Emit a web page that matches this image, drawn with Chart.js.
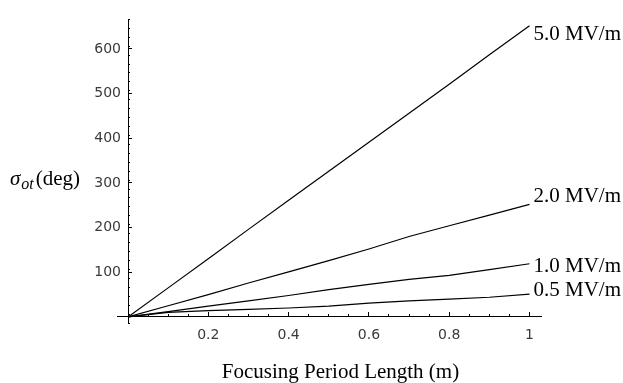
<!DOCTYPE html>
<html>
<head>
<meta charset="utf-8">
<script src="https://cdn.jsdelivr.net/npm/chart.js@4/dist/chart.umd.min.js"></script>
<style>
html,body{margin:0;padding:0;background:#fff;}
#wrap{width:623px;height:383px;}
</style>
</head>
<body>
<div id="wrap"><canvas id="c" width="623" height="383"></canvas></div>
<script>
// ---- data ----
const periodLength = [0, 0.1, 0.2, 0.3, 0.4, 0.5, 0.6, 0.7, 0.8, 0.9, 1.0];
const sigma05 = [0, 10, 14, 17, 20, 24, 31, 36, 40, 44, 51];
const sigma10 = [0, 12, 24, 36, 48, 61, 73, 84, 93, 106, 119];
const sigma20 = [0, 25, 50, 76, 101, 126, 152, 180, 204, 228, 252];
const sigma50 = [0, 65, 130, 196, 261, 326, 391, 456, 521, 587, 652];
const seriesNames = ['0.5 MV/m', '1.0 MV/m', '2.0 MV/m', '5.0 MV/m'];
const seriesLabelY = [47.5, 101.5, 257, 619.5];   // label baselines, in data units
const xTickValues = [0.2, 0.4, 0.6, 0.8, 1];
const xTickLabels = ['0.2', '0.4', '0.6', '0.8', '1'];
const yTickValues = [100, 200, 300, 400, 500, 600];
const yTickLabels = ['100', '200', '300', '400', '500', '600'];
const xTitle = 'Focusing Period Length (m)';
const yTitleParts = ['σ', 'ot', '(deg)'];

const seriesValues = [sigma05, sigma10, sigma20, sigma50];

const SERIF = '"Liberation Serif", "Times New Roman", serif';
const TICKFONT = {family: '"DejaVu Sans", sans-serif', size: 14};
const TICKCOLOR = '#3a3a3a';

function alignPx(p) { return Math.round(p - 0.5) + 0.5; }

const annotations = {
  id: 'annotations',
  afterDraw(chart) {
    const ctx = chart.ctx;
    const xs = chart.scales.x, ys = chart.scales.y;
    const ca = chart.chartArea;
    ctx.save();
    // short extension of the horizontal axis to the left of the origin
    const y0 = alignPx(ys.getPixelForValue(0));
    const x0 = xs.getPixelForValue(0);
    ctx.strokeStyle = '#000';
    ctx.lineWidth = 1;
    ctx.beginPath();
    ctx.moveTo(x0 - 11, y0);
    ctx.lineTo(x0, y0);
    ctx.stroke();

    // series labels
    ctx.fillStyle = '#000';
    ctx.font = '21px ' + SERIF;
    ctx.textAlign = 'left';
    ctx.textBaseline = 'alphabetic';
    const xl = xs.getPixelForValue(1) + 4;
    seriesNames.forEach((n, i) => {
      ctx.fillText(n, xl, ys.getPixelForValue(seriesLabelY[i]));
    });

    // x axis title
    ctx.textAlign = 'center';
    ctx.fillText(xTitle, (ca.left + ca.right) / 2 + 6, ca.bottom + 55);

    // y axis title: sigma with subscript "ot", then (deg)
    ctx.textAlign = 'left';
    const base = ys.getPixelForValue(300) + 2;
    let x = 10;
    ctx.font = 'italic 21px ' + SERIF;
    ctx.fillText(yTitleParts[0], x, base);
    x += ctx.measureText(yTitleParts[0]).width + 1;
    ctx.font = 'italic 16px ' + SERIF;
    ctx.fillText(yTitleParts[1], x, base + 4);
    x += ctx.measureText(yTitleParts[1]).width + 2;
    ctx.font = '21px ' + SERIF;
    ctx.fillText(yTitleParts[2], x, base);
    ctx.restore();
  }
};

const chart = new Chart(document.getElementById('c'), {
  type: 'line',
  data: {
    datasets: seriesValues.map((vals, i) => ({
      label: seriesNames[i],
      data: periodLength.map((xv, j) => ({x: xv, y: vals[j]})),
      borderColor: '#000',
      borderWidth: 1.2,
      pointRadius: 0,
      tension: 0,
      fill: false,
      xAxisID: 'x',
      yAxisID: 'y'
    }))
  },
  options: {
    responsive: false,
    animation: false,
    devicePixelRatio: 1,
    layout: {padding: {left: 0, right: 82, top: 8, bottom: 60}},
    plugins: {legend: {display: false}, tooltip: {enabled: false}},
    scales: {
      x: {
        type: 'linear',
        position: {y: 0},
        min: 0, max: 1.0286,
        afterBuildTicks: s => { s.ticks = xTickValues.map(v => ({value: v})); },
        ticks: {
          callback: (v, i) => xTickLabels[i],
          font: TICKFONT, color: TICKCOLOR, padding: 15,
          maxRotation: 0, autoSkip: false
        },
        grid: {drawOnChartArea: false, tickLength: -5, tickColor: '#000', tickWidth: 1},
        border: {display: true, color: '#000', width: 1}
      },
      xMinor: {
        type: 'linear', axis: 'x',
        position: {y: 0},
        min: 0, max: 1.0286,
        ticks: {stepSize: 0.05, includeBounds: false, autoSkip: false, callback: () => ''},
        grid: {drawOnChartArea: false, tickLength: -3, tickColor: '#000', tickWidth: 1},
        border: {display: false}
      },
      y: {
        type: 'linear',
        position: 'left',
        min: -13.6, max: 666,
        afterBuildTicks: s => { s.ticks = yTickValues.map(v => ({value: v})); },
        afterFit: s => { s.width = 128; },
        ticks: {
          callback: (v, i) => yTickLabels[i],
          font: TICKFONT, color: TICKCOLOR, padding: 11, autoSkip: false
        },
        grid: {drawOnChartArea: false, tickLength: -4, tickColor: '#000', tickWidth: 1},
        border: {display: true, color: '#000', width: 1}
      },
      yMinor: {
        type: 'linear', axis: 'y',
        position: {x: 0},
        min: -13.6, max: 666,
        ticks: {stepSize: 20, includeBounds: false, autoSkip: false, callback: () => ''},
        grid: {drawOnChartArea: false, tickLength: -2, tickColor: '#000', tickWidth: 1},
        border: {display: false}
      }
    }
  },
  plugins: [annotations]
});
</script>
</body>
</html>
